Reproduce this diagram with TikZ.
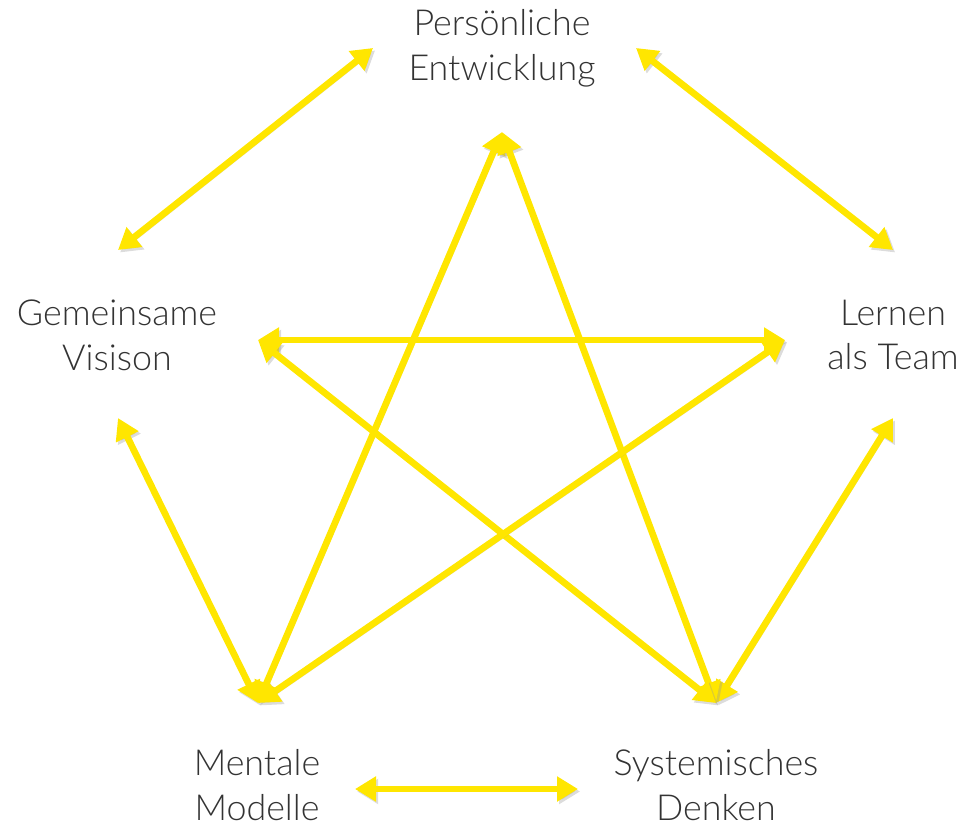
\documentclass[tikz,border=0pt]{standalone}
\usepackage{fontspec}
\setmainfont{Lato}[UprightFont=* Light]
\usetikzlibrary{arrows.meta}
\definecolor{Beam}{HTML}{FFE600}
\definecolor{Ink}{HTML}{333333}
\definecolor{Shade}{HTML}{9A9A9A}
\tikzset{
    discipline/.style={align=center, text=Ink, font=\fontsize{20.4}{25.5}\selectfont},
    link/.style={{Triangle[length=0.42cm, width=0.48cm]}-{Triangle[length=0.42cm, width=0.48cm]},
        line width=3.8pt, draw=Beam,
        preaction={draw=Shade, opacity=0.35, transform canvas={shift={(1.2pt,-1.4pt)}}}},
}

\begin{document}
\begin{tikzpicture}[x=0.02cm, y=-0.02cm]
    \useasboundingbox (0,0) rectangle (976,825);

    % Die fuenf Disziplinen
    \node[discipline] (pe) at (502,48)  {Persönliche\\Entwicklung};
    \node[discipline] (gv) at (117,335) {Gemeinsame\\Visison};
    \node[discipline] (lt) at (893,335) {Lernen\\als Team};
    \node[discipline] (mm) at (257,785) {Mentale\\Modelle};
    \node[discipline] (sd) at (716,785) {Systemisches\\Denken};

    % Ankerpunkte der Pfeile
    \coordinate (pe-l) at (373,48);
    \coordinate (pe-r) at (636,48);
    \coordinate (pe-b) at (502,132);
    \coordinate (gv-t) at (118,250);
    \coordinate (gv-r) at (258,340);
    \coordinate (gv-b) at (118,418);
    \coordinate (lt-t) at (893,250);
    \coordinate (lt-l) at (785,340);
    \coordinate (lt-b) at (893,418);
    \coordinate (mm-t) at (258,703);
    \coordinate (mm-r) at (355,789);
    \coordinate (sd-t) at (716,703);
    \coordinate (sd-l) at (578,789);

    % Aeusseres Fuenfeck
    \draw[link] (pe-l) -- (gv-t);
    \draw[link] (pe-r) -- (lt-t);
    \draw[link] (gv-b) -- (mm-t);
    \draw[link] (lt-b) -- (sd-t);
    \draw[link] (mm-r) -- (sd-l);

    % Innerer Stern
    \draw[link] (pe-b) -- (mm-t);
    \draw[link] (pe-b) -- (sd-t);
    \draw[link] (gv-r) -- (lt-l);
    \draw[link] (gv-r) -- (sd-t);
    \draw[link] (lt-l) -- (mm-t);
\end{tikzpicture}
\end{document}
